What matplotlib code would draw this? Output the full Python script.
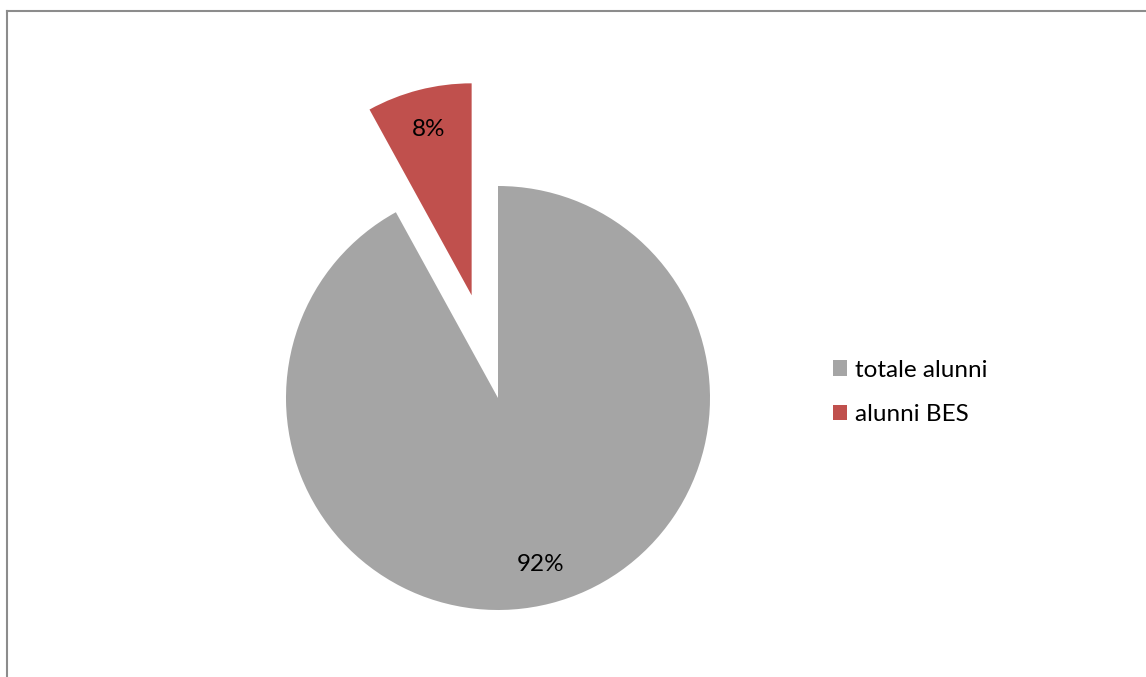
import matplotlib
matplotlib.use("Agg")
import matplotlib.pyplot as plt
from matplotlib.lines import Line2D

labels = ["totale alunni", "alunni BES"]
values = [92, 8]
colors = ["#A5A5A5", "#C0504D"]
explode = [0, 0.5]

plt.rcParams['font.family'] = ['Lato', 'DejaVu Sans']

W, H = 1146, 677
fig = plt.figure(figsize=(W / 100, H / 100), dpi=100)
ax = fig.add_axes([0, 0, 1, 1])

wedges, texts, autotexts = ax.pie(values, colors=colors, explode=explode, startangle=90,
                                  counterclock=False, autopct='%1.0f%%', pctdistance=0.81,
                                  textprops={'fontsize': 17.5, 'color': 'black'})

cx, cy, r = 498, 398, 212
ax.set_xlim(-cx / r, (W - cx) / r)
ax.set_ylim(-(H - cy) / r, cy / r)
ax.set_aspect('auto')
ax.axis('off')

# chart border (left and top)
fig.add_artist(Line2D([7 / W, 7 / W], [0, 1 - 11 / H], color='#8C8C8C', lw=1.5, transform=fig.transFigure))
fig.add_artist(Line2D([7 / W, 1], [1 - 11 / H, 1 - 11 / H], color='#8C8C8C', lw=1.5, transform=fig.transFigure))

leg = fig.legend(wedges, labels, loc='upper left', bbox_to_anchor=(823 / W, 1 - 350 / H),
                 frameon=False, fontsize=17.5, handlelength=0.6, handleheight=0.6,
                 handletextpad=0.3, labelspacing=0.95, borderaxespad=0)

fig.savefig("out.png", dpi=100)
